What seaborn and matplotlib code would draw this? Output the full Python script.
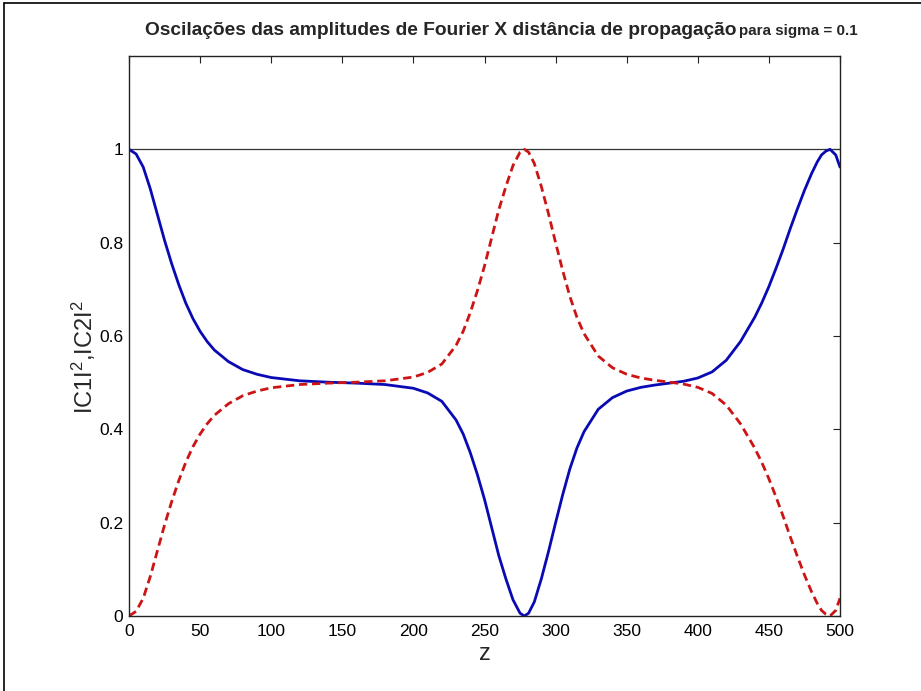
import matplotlib
matplotlib.use("Agg")
import matplotlib.pyplot as plt
from matplotlib.lines import Line2D
import pandas as pd
import seaborn as sns

# Propagation distance samples
z = [0, 5, 10, 15, 20, 25, 30, 35, 40, 45, 50, 55, 60, 70, 80, 90, 100, 120,
     140, 160, 180, 200, 210, 220, 230, 235, 240, 245, 250, 255, 260, 265, 270,
     275, 278, 281, 285, 290, 295, 300, 305, 310, 315, 320, 330, 340, 350, 360,
     370, 380, 390, 400, 410, 420, 430, 440, 445, 450, 455, 460, 465, 470, 475,
     480, 484, 487, 490, 493, 497, 500]

# |C1|^2 (solid blue)
c1 = [1.000, 0.990, 0.962, 0.915, 0.860, 0.805, 0.755, 0.710, 0.670, 0.637,
      0.610, 0.588, 0.570, 0.545, 0.528, 0.518, 0.511, 0.504, 0.501, 0.499,
      0.496, 0.488, 0.478, 0.460, 0.420, 0.390, 0.350, 0.303, 0.250, 0.190,
      0.130, 0.080, 0.035, 0.006, 0.000, 0.006, 0.030, 0.080, 0.138, 0.200,
      0.260, 0.315, 0.360, 0.395, 0.443, 0.468, 0.482, 0.490, 0.495, 0.499,
      0.503, 0.510, 0.523, 0.548, 0.588, 0.640, 0.671, 0.706, 0.745, 0.786,
      0.830, 0.872, 0.912, 0.948, 0.973, 0.988, 0.996, 1.000, 0.988, 0.962]

# |C2|^2 (dashed red)
c2 = [0.000, 0.010, 0.038, 0.085, 0.140, 0.195, 0.245, 0.290, 0.330, 0.363,
      0.390, 0.412, 0.430, 0.455, 0.472, 0.482, 0.489, 0.496, 0.499, 0.501,
      0.504, 0.512, 0.522, 0.540, 0.580, 0.610, 0.650, 0.697, 0.750, 0.810,
      0.870, 0.920, 0.965, 0.994, 1.000, 0.994, 0.970, 0.920, 0.862, 0.800,
      0.740, 0.685, 0.640, 0.605, 0.557, 0.532, 0.518, 0.510, 0.505, 0.501,
      0.497, 0.490, 0.477, 0.452, 0.412, 0.360, 0.329, 0.294, 0.255, 0.214,
      0.170, 0.128, 0.088, 0.052, 0.027, 0.012, 0.004, 0.000, 0.012, 0.038]

# Total probability |C1|^2 + |C2|^2
z_total = [0, 500]
total = [1.0, 1.0]

xticks = [0, 50, 100, 150, 200, 250, 300, 350, 400, 450, 500]
yticks = [0, 0.2, 0.4, 0.6, 0.8, 1.0]
ytick_labels = ["0", "0.2", "0.4", "0.6", "0.8", "1"]

title_main = "Oscilações das amplitudes de Fourier X distância de propagação"
title_tail = "para sigma = 0.1"

sns.set_style("white")
plt.rcParams["font.family"] = ["Liberation Sans", "DejaVu Sans"]
plt.rcParams["mathtext.fontset"] = "custom"
plt.rcParams["mathtext.rm"] = "Liberation Sans"
plt.rcParams["mathtext.it"] = "Liberation Sans:italic"

W, H = 921, 691
fig = plt.figure(figsize=(W / 100, H / 100), dpi=100)
ax = fig.add_axes([129 / W, 75 / H, 711 / W, 560 / H])

df = pd.DataFrame({"z": z, "c1": c1, "c2": c2})
df_tot = pd.DataFrame({"z": z_total, "total": total})

sns.lineplot(data=df_tot, x="z", y="total", ax=ax, color="#333333", lw=0.9)
sns.lineplot(data=df, x="z", y="c1", ax=ax, color="#0a0ab4", lw=2.0)
sns.lineplot(data=df, x="z", y="c2", ax=ax, color="#cc1414", lw=2.0,
             linestyle=(0, (3.0, 1.7)))

ax.set_xlim(0, 500)
ax.set_ylim(0, 1.2)
ax.set_xticks(xticks)
ax.set_yticks(yticks)
ax.set_yticklabels(ytick_labels)
ax.tick_params(direction="in", top=True, right=True, length=5, width=0.8,
               colors="#222222", labelsize=12.5, labelcolor="black")
ax.tick_params(axis="x", pad=6)
ax.tick_params(axis="y", pad=4)
for s in ax.spines.values():
    s.set_visible(True)
    s.set_color("#222222")
    s.set_linewidth(1.0)

ax.set_xlabel("z", fontsize=17, labelpad=3)
ax.set_ylabel(r"IC1I$^2$,IC2I$^2$", fontsize=17)
ax.yaxis.set_label_coords(-0.044, 0.4625)

# Two-part title: main line plus smaller parameter note
t1 = fig.text(145 / W, 1 - 35 / H, title_main, ha="left", va="baseline",
              fontsize=12, fontweight="bold")
fig.canvas.draw()
r = fig.canvas.get_renderer()
w1 = t1.get_window_extent(r).width
t1.set_fontsize(12 * 588 / w1)
t2 = fig.text(739 / W, 1 - 35 / H, title_tail, ha="left", va="baseline",
              fontsize=10, fontweight="bold")
fig.canvas.draw()
w2 = t2.get_window_extent(r).width
t2.set_fontsize(10 * 119 / w2)

# Frame lines along the top and left edges
fig.add_artist(Line2D([4 / W, 4 / W], [0, 1 - 3 / H], transform=fig.transFigure,
                      color="black", lw=1.2))
fig.add_artist(Line2D([4 / W, 1], [1 - 3 / H, 1 - 3 / H], transform=fig.transFigure,
                      color="black", lw=1.2))

fig.savefig("out.png", dpi=100)
